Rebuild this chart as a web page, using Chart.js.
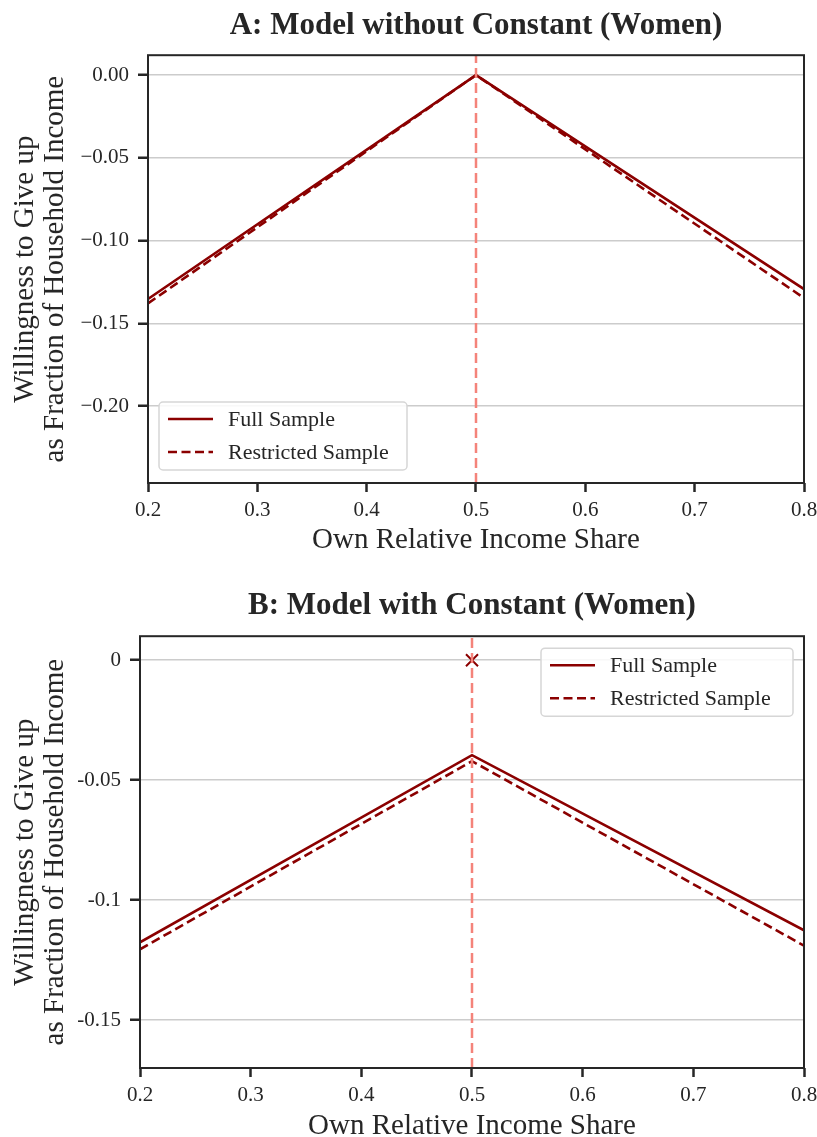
<!DOCTYPE html>
<html>
<head>
<meta charset="utf-8">
<script src="https://cdn.jsdelivr.net/npm/chart.js@4.4.1/dist/chart.umd.min.js"></script>
<style>
  html, body { margin: 0; padding: 0; background: #fff; overflow: hidden; }
  #wrap { position: relative; width: 817px; height: 1137px; }
  canvas { position: absolute; left: 0; }
  #chartA { top: 0; }
  #chartB { top: 568px; }
</style>
</head>
<body>
<div id="wrap">
  <canvas id="chartA" width="817" height="568"></canvas>
  <canvas id="chartB" width="817" height="580"></canvas>
</div>
<script>
// income share grid shared by both panels
var shareX = [0.2, 0.5, 0.8]
var xTicks = [0.2, 0.3, 0.4, 0.5, 0.6, 0.7, 0.8]
var xTickLabels = ['0.2', '0.3', '0.4', '0.5', '0.6', '0.7', '0.8']
var breakPoint = 0.5

// panel A: model without constant
var fullA = [-0.1353, 0, -0.1293]
var restrictedA = [-0.1380, 0, -0.1347]
var yTicksA = [0, -0.05, -0.10, -0.15, -0.20]
var yTickLabelsA = ['0.00', '\u22120.05', '\u22120.10', '\u22120.15', '\u22120.20']
var yRangeA = [-0.2465, 0.012]

// panel B: model with constant
var fullB = [-0.1176, -0.0396, -0.1126]
var restrictedB = [-0.1205, -0.0421, -0.1190]
var constPoint = [0]
var yTicksB = [0, -0.05, -0.1, -0.15]
var yTickLabelsB = ['0', '-0.05', '-0.1', '-0.15']
var yRangeB = [-0.17, 0.01]

var seriesLabels = ['Full Sample', 'Restricted Sample']

var RED = '#8b0000'
var REF = '#f4837a'
var INK = '#262626'
var FONT = "'Liberation Serif', 'Times New Roman', serif"

function pts(xs, ys) {
    return xs.map(function (x, i) { return { x: x, y: ys[i] } })
}

// frame around the plot area (all four spines)
var framePlugin = {
    id: 'frame',
    afterDatasetsDraw: function (chart) {
        var a = chart.chartArea, ctx = chart.ctx
        ctx.save()
        ctx.strokeStyle = INK
        ctx.lineWidth = 2
        ctx.strokeRect(a.left, a.top, a.right - a.left, a.bottom - a.top)
        ctx.restore()
    }
}

// boxed legend drawn inside the plot area
var insetLegend = {
    id: 'insetLegend',
    afterDraw: function (chart, args, opts) {
        var a = chart.chartArea, ctx = chart.ctx
        var w = opts.width, h = 68
        var x = opts.corner === 'lower left' ? a.left + 11 : a.right - 11 - w
        var y = opts.corner === 'lower left' ? a.bottom - 13 - h : a.top + 12
        ctx.save()
        ctx.fillStyle = 'rgba(255,255,255,0.85)'
        ctx.strokeStyle = '#d6d6d6'
        ctx.lineWidth = 1.5
        ctx.beginPath()
        ctx.roundRect(x, y, w, h, 4)
        ctx.fill()
        ctx.stroke()
        ctx.font = '22px ' + FONT
        ctx.textBaseline = 'middle'
        ctx.fillStyle = INK
        var items = chart.data.datasets.filter(function (d) { return d.inLegend })
        items.forEach(function (d, i) {
            var cy = y + 17 + i * 33
            ctx.strokeStyle = d.borderColor
            ctx.lineWidth = d.borderWidth
            ctx.setLineDash(d.borderDash || [])
            ctx.beginPath()
            ctx.moveTo(x + 9, cy)
            ctx.lineTo(x + 54, cy)
            ctx.stroke()
            ctx.setLineDash([])
            ctx.fillText(d.label, x + 69, cy + 1)
        })
        ctx.restore()
    }
}

function makeChart(id, cfg) {
    var datasets = [
        {
            label: 'ref',
            data: pts([breakPoint, breakPoint], cfg.yRange),
            borderColor: REF,
            borderWidth: 2.5,
            borderDash: [10, 5],
            pointRadius: 0
        },
        {
            label: seriesLabels[0],
            inLegend: true,
            data: pts(shareX, cfg.full),
            borderColor: RED,
            borderWidth: 2.6,
            pointRadius: 0
        },
        {
            label: seriesLabels[1],
            inLegend: true,
            data: pts(shareX, cfg.restricted),
            borderColor: RED,
            borderWidth: 2.6,
            borderDash: [9, 4.5],
            pointRadius: 0
        }
    ]
    if (cfg.marker) {
        datasets.push({
            label: 'const',
            data: pts([breakPoint], cfg.marker),
            showLine: false,
            pointStyle: 'crossRot',
            pointRadius: 8.5,
            borderColor: RED,
            borderWidth: 2
        })
    }

    return new Chart(document.getElementById(id).getContext('2d'), {
        type: 'line',
        data: { datasets: datasets },
        plugins: [framePlugin, insetLegend],
        options: {
            responsive: false,
            animation: false,
            layout: { padding: { left: 0, right: 13, top: 0, bottom: 0 } },
            plugins: {
                legend: { display: false },
                tooltip: { enabled: false },
                title: {
                    display: true,
                    fullSize: false,
                    text: cfg.title,
                    color: INK,
                    font: { family: FONT, size: 31, weight: 'bold', lineHeight: 1.2 },
                    padding: cfg.titlePad
                },
                insetLegend: { corner: cfg.legendCorner, width: cfg.legendWidth }
            },
            scales: {
                x: {
                    type: 'linear',
                    min: 0.2,
                    max: 0.8,
                    afterBuildTicks: function (s) { s.ticks = xTicks.map(function (v) { return { value: v } }) },
                    afterFit: function (s) {
                        s.height = cfg.xHeight
                        s.paddingLeft = 0
                        s.paddingRight = 0
                    },
                    border: { display: false },
                    grid: { drawOnChartArea: false, tickColor: INK, tickWidth: 2.5, tickLength: 9 },
                    ticks: {
                        color: INK,
                        padding: 6,
                        maxRotation: 0,
                        font: { family: FONT, size: 21 },
                        callback: function (v) { return xTickLabels[xTicks.indexOf(Math.round(v * 10) / 10)] }
                    },
                    title: {
                        display: true,
                        text: 'Own Relative Income Share',
                        color: INK,
                        font: { family: FONT, size: 29, lineHeight: 1.05 },
                        padding: { top: 0, bottom: cfg.xTitlePad }
                    }
                },
                y: {
                    type: 'linear',
                    min: cfg.yRange[0],
                    max: cfg.yRange[1],
                    afterBuildTicks: function (s) { s.ticks = cfg.yTicks.map(function (v) { return { value: v } }) },
                    afterFit: function (s) { s.width = cfg.yWidth },
                    border: { display: false },
                    grid: { color: '#cccccc', lineWidth: 1.5, tickColor: INK, tickWidth: 2.5, tickLength: 10 },
                    ticks: {
                        color: INK,
                        padding: 9,
                        font: { family: FONT, size: 21 },
                        callback: function (v, i) { return cfg.yLabels[i] }
                    },
                    title: {
                        display: true,
                        text: ['Willingness to Give up', 'as Fraction of Household Income'],
                        color: INK,
                        font: { family: FONT, size: 29, lineHeight: 1.05 },
                        padding: { top: 10, bottom: 0 }
                    }
                }
            }
        }
    })
}

makeChart('chartA', {
    title: 'A: Model without Constant (Women)',
    titlePad: { top: 7, bottom: 11 },
    full: fullA,
    restricted: restrictedA,
    yRange: yRangeA,
    yTicks: yTicksA,
    yLabels: yTickLabelsA,
    yWidth: 148,
    xHeight: 85,
    xTitlePad: 12,
    legendCorner: 'lower left',
    legendWidth: 248
})

makeChart('chartB', {
    title: 'B: Model with Constant (Women)',
    titlePad: { top: 19, bottom: 12 },
    full: fullB,
    restricted: restrictedB,
    marker: constPoint,
    yRange: yRangeB,
    yTicks: yTicksB,
    yLabels: yTickLabelsB,
    yWidth: 140,
    xHeight: 80,
    xTitlePad: 6,
    legendCorner: 'upper right',
    legendWidth: 252
})
</script>
</body>
</html>
